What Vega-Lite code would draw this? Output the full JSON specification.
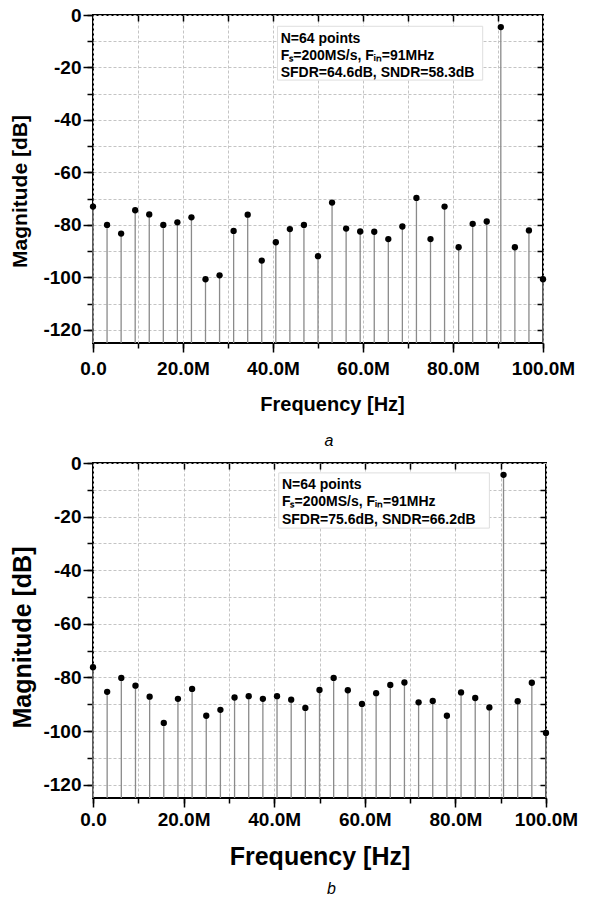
{
  "$schema": "https://vega.github.io/schema/vega-lite/v6.json",
  "padding": {"left": 8, "top": 5, "right": 5, "bottom": 0},
  "config": {
    "font": "Liberation Sans",
    "view": {"stroke": "black", "strokeWidth": 2},
    "axis": {"domain": false, "tickColor": "black", "tickWidth": 1.5, "labelColor": "black", "labelFont": "Liberation Sans", "labelFontWeight": "bold", "labelFontSize": 19, "labelOverlap": false, "labelFlush": false, "labelBound": false, "titleFont": "Liberation Sans", "titleFontWeight": "bold", "titleColor": "black", "gridColor": "#c4c4c4", "gridDash": [3, 2], "gridWidth": 1}
  },
  "datasets": {
    "a": [
      {"f": 0, "db": -73}, {"f": 3125000, "db": -80}, {"f": 6250000, "db": -83.3}, {"f": 9375000, "db": -74.4},
      {"f": 12500000, "db": -76}, {"f": 15625000, "db": -80}, {"f": 18750000, "db": -79}, {"f": 21875000, "db": -77.1},
      {"f": 25000000, "db": -100.7}, {"f": 28125000, "db": -99.2}, {"f": 31250000, "db": -82.3}, {"f": 34375000, "db": -76.1},
      {"f": 37500000, "db": -93.6}, {"f": 40625000, "db": -86.6}, {"f": 43750000, "db": -81.6}, {"f": 46875000, "db": -80},
      {"f": 50000000, "db": -91.9}, {"f": 53125000, "db": -71.5}, {"f": 56250000, "db": -81.4}, {"f": 59375000, "db": -82.5},
      {"f": 62500000, "db": -82.6}, {"f": 65625000, "db": -85.4}, {"f": 68750000, "db": -80.6}, {"f": 71875000, "db": -69.7},
      {"f": 75000000, "db": -85.4}, {"f": 78125000, "db": -73}, {"f": 81250000, "db": -88.5}, {"f": 84375000, "db": -79.6},
      {"f": 87500000, "db": -78.7}, {"f": 90625000, "db": -4.6}, {"f": 93750000, "db": -88.5}, {"f": 96875000, "db": -82.1},
      {"f": 100000000, "db": -100.7}
    ],
    "b": [
      {"f": 0, "db": -76.2}, {"f": 3125000, "db": -85.4}, {"f": 6250000, "db": -80.2}, {"f": 9375000, "db": -83.1},
      {"f": 12500000, "db": -87.2}, {"f": 15625000, "db": -97}, {"f": 18750000, "db": -88}, {"f": 21875000, "db": -84.3},
      {"f": 25000000, "db": -94.3}, {"f": 28125000, "db": -92.1}, {"f": 31250000, "db": -87.5}, {"f": 34375000, "db": -87},
      {"f": 37500000, "db": -88}, {"f": 40625000, "db": -87}, {"f": 43750000, "db": -88.3}, {"f": 46875000, "db": -91.4},
      {"f": 50000000, "db": -84.7}, {"f": 53125000, "db": -80.2}, {"f": 56250000, "db": -84.8}, {"f": 59375000, "db": -89.9},
      {"f": 62500000, "db": -85.9}, {"f": 65625000, "db": -82.8}, {"f": 68750000, "db": -81.9}, {"f": 71875000, "db": -89.3},
      {"f": 75000000, "db": -88.8}, {"f": 78125000, "db": -94.3}, {"f": 81250000, "db": -85.6}, {"f": 84375000, "db": -87.7},
      {"f": 87500000, "db": -91.2}, {"f": 90625000, "db": -4.4}, {"f": 93750000, "db": -88.9}, {"f": 96875000, "db": -82},
      {"f": 100000000, "db": -100.7}
    ],
    "box": [{}]
  },
  "columns": 1,
  "align": "none",
  "center": true,
  "spacing": 3,
  "concat": [
    {
      "width": 450,
      "height": 328,
      "data": {"name": "a"},
      "title": {"text": "a", "orient": "bottom", "font": "Liberation Sans", "fontStyle": "italic", "fontWeight": "normal", "fontSize": 16, "color": "black", "dx": 11, "offset": 19},
      "layer": [
        {
          "mark": {"type": "rule", "color": "#8a8a8a", "strokeWidth": 1.3},
          "encoding": {
            "x": {"field": "f", "type": "quantitative", "scale": {"domain": [0, 100000000], "nice": false},
                  "axis": {"orient": "bottom", "values": [0, 10000000, 20000000, 30000000, 40000000, 50000000, 60000000, 70000000, 80000000, 90000000, 100000000], "labels": false, "tickSize": 5, "grid": true, "title": null}},
            "y": {"field": "db", "type": "quantitative", "scale": {"domain": [-125, 0], "nice": false},
                  "axis": {"orient": "left", "values": [-120, -110, -100, -90, -80, -70, -60, -50, -40, -30, -20, -10, 0], "labels": false, "tickSize": 6, "grid": true, "title": null}},
            "y2": {"datum": -125}
          }
        },
        {
          "data": {"name": "box"},
          "mark": {"type": "rect", "fill": "white", "stroke": "#dedede", "strokeWidth": 1},
          "encoding": {
            "x": {"datum": 41000000, "type": "quantitative",
                  "axis": {"orient": "top", "values": [10000000, 20000000, 30000000, 40000000, 50000000, 60000000, 70000000, 80000000, 90000000], "labels": false, "tickSize": -6, "grid": false, "title": null}},
            "x2": {"datum": 86600000},
            "y": {"datum": -4.3, "type": "quantitative",
                  "axis": {"orient": "right", "values": [-120, -110, -100, -90, -80, -70, -60, -50, -40, -30, -20, -10], "labels": false, "tickSize": -6, "grid": false, "title": null}},
            "y2": {"datum": -24.8}
          }
        },
        {
          "data": {"name": "box"},
          "mark": {"type": "text", "align": "left", "baseline": "alphabetic", "font": "Liberation Sans", "fontSize": 14, "fontWeight": "bold", "fill": "black", "lineHeight": 17.3,
                   "text": ["N=64 points", "Fₛ=200MS/s, Fᵢₙ=91MHz", "SFDR=64.6dB, SNDR=58.3dB"]},
          "encoding": {
            "x": {"datum": 41700000, "type": "quantitative", "axis": null},
            "y": {"datum": -10.6, "type": "quantitative", "axis": null}
          }
        },
        {
          "mark": {"type": "point", "filled": true, "color": "black", "size": 40, "opacity": 1},
          "encoding": {
            "x": {"field": "f", "type": "quantitative",
                  "axis": {"orient": "bottom", "values": [0, 20000000, 40000000, 60000000, 80000000, 100000000], "tickSize": 9, "labelPadding": 7, "grid": false,
                           "labelExpr": "datum.value == 0 ? '0.0' : format(datum.value / 1000000, '.1f') + 'M'",
                           "title": "Frequency [Hz]", "titleFontSize": 20, "titlePadding": 16, "titleX": 239}},
            "y": {"field": "db", "type": "quantitative",
                  "axis": {"orient": "left", "values": [-120, -100, -80, -60, -40, -20, 0], "tickSize": 10, "labelPadding": 2, "grid": false,
                           "labelExpr": "datum.value == 0 ? '0' : '-' + abs(datum.value)",
                           "title": "Magnitude [dB]", "titleFontSize": 21, "titlePadding": 12, "titleY": 176}}
          }
        }
      ],
      "resolve": {"axis": {"x": "independent", "y": "independent"}}
    },
    {
      "width": 453,
      "height": 335,
      "data": {"name": "b"},
      "title": {"text": "b", "orient": "bottom", "font": "Liberation Sans", "fontStyle": "italic", "fontWeight": "normal", "fontSize": 16, "color": "black", "dx": 12, "offset": 12},
      "layer": [
        {
          "mark": {"type": "rule", "color": "#8a8a8a", "strokeWidth": 1.3},
          "encoding": {
            "x": {"field": "f", "type": "quantitative", "scale": {"domain": [0, 100000000], "nice": false},
                  "axis": {"orient": "bottom", "values": [0, 10000000, 20000000, 30000000, 40000000, 50000000, 60000000, 70000000, 80000000, 90000000, 100000000], "labels": false, "tickSize": 5, "grid": true, "title": null}},
            "y": {"field": "db", "type": "quantitative", "scale": {"domain": [-125, 0], "nice": false},
                  "axis": {"orient": "left", "values": [-120, -110, -100, -90, -80, -70, -60, -50, -40, -30, -20, -10, 0], "labels": false, "tickSize": 6, "grid": true, "title": null}},
            "y2": {"datum": -125}
          }
        },
        {
          "data": {"name": "box"},
          "mark": {"type": "rect", "fill": "white", "stroke": "#dedede", "strokeWidth": 1},
          "encoding": {
            "x": {"datum": 41000000, "type": "quantitative",
                  "axis": {"orient": "top", "values": [10000000, 20000000, 30000000, 40000000, 50000000, 60000000, 70000000, 80000000, 90000000], "labels": false, "tickSize": -6, "grid": false, "title": null}},
            "x2": {"datum": 87500000},
            "y": {"datum": -3.7, "type": "quantitative",
                  "axis": {"orient": "right", "values": [-120, -110, -100, -90, -80, -70, -60, -50, -40, -30, -20, -10], "labels": false, "tickSize": -6, "grid": false, "title": null}},
            "y2": {"datum": -24.3}
          }
        },
        {
          "data": {"name": "box"},
          "mark": {"type": "text", "align": "left", "baseline": "alphabetic", "font": "Liberation Sans", "fontSize": 14, "fontWeight": "bold", "fill": "black", "lineHeight": 17.5,
                   "text": ["N=64 points", "Fₛ=200MS/s, Fᵢₙ=91MHz", "SFDR=75.6dB, SNDR=66.2dB"]},
          "encoding": {
            "x": {"datum": 41700000, "type": "quantitative", "axis": null},
            "y": {"datum": -9.7, "type": "quantitative", "axis": null}
          }
        },
        {
          "mark": {"type": "point", "filled": true, "color": "black", "size": 40, "opacity": 1},
          "encoding": {
            "x": {"field": "f", "type": "quantitative",
                  "axis": {"orient": "bottom", "values": [0, 20000000, 40000000, 60000000, 80000000, 100000000], "tickSize": 9, "labelPadding": 3, "grid": false,
                           "labelExpr": "datum.value == 0 ? '0.0' : format(datum.value / 1000000, '.1f') + 'M'",
                           "title": "Frequency [Hz]", "titleFontSize": 25, "titlePadding": 15}},
            "y": {"field": "db", "type": "quantitative",
                  "axis": {"orient": "left", "values": [-120, -100, -80, -60, -40, -20, 0], "tickSize": 10, "labelPadding": 2, "grid": false,
                           "labelExpr": "datum.value == 0 ? '0' : '-' + abs(datum.value)",
                           "title": "Magnitude [dB]", "titleFontSize": 25, "titlePadding": 7, "titleY": 174}}
          }
        }
      ],
      "resolve": {"axis": {"x": "independent", "y": "independent"}}
    }
  ]
}
